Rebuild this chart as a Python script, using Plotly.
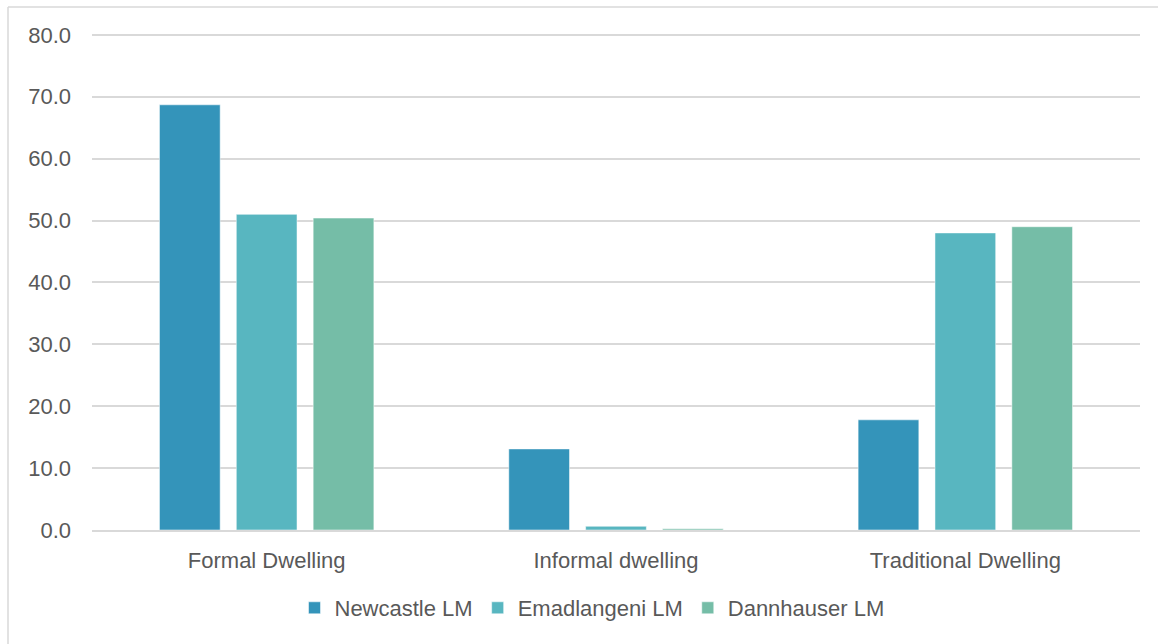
import plotly.graph_objects as go

# Dwelling type share (%) by local municipality
categories = ["Formal Dwelling", "Informal dwelling", "Traditional Dwelling"]
newcastle = [68.7, 13.1, 17.8]
emadlangeni = [51.0, 0.6, 48.0]
dannhauser = [50.4, 0.2, 49.0]

series = [
    ("Newcastle LM", newcastle, "#3494BA"),
    ("Emadlangeni LM", emadlangeni, "#58B6C0"),
    ("Dannhauser LM", dannhauser, "#75BDA7"),
]

W, H = 1158, 644
L, R, T, B = 92, 18, 33, 114
plot_w = W - L - R
plot_h = H - T - B

fig = go.Figure()
for name, vals, color in series:
    fig.add_trace(go.Bar(
        x=categories, y=vals, name=name,
        marker=dict(color=color, line=dict(color="rgba(255,255,255,0.5)", width=1)),
    ))

font_family = "Liberation Sans, Arial, sans-serif"
text_color = "#595959"
grid_color = "#D9D9D9"
font_size = 22


def px_x(px):
    return (px - L) / plot_w


def px_y(py):
    return (H - B - py) / plot_h


# thin frame along the top and left edges of the chart area
frame = dict(type="line", xref="paper", yref="paper",
             line=dict(color=grid_color, width=1.5))
fig.add_shape(x0=px_x(8), x1=px_x(W + 5), y0=px_y(7), y1=px_y(7), **frame)
fig.add_shape(x0=px_x(8), x1=px_x(8), y0=px_y(7), y1=px_y(H + 5), **frame)

fig.update_layout(
    width=W, height=H,
    margin=dict(l=L, r=R, t=T, b=B),
    paper_bgcolor="white", plot_bgcolor="white",
    barmode="group", bargap=0.34, bargroupgap=0.21,
    font=dict(family=font_family, size=font_size, color=text_color),
    xaxis=dict(
        showgrid=False, showline=True, linecolor=grid_color, linewidth=1.5,
        ticks="", ticklabelstandoff=10,
        tickfont=dict(size=font_size, color=text_color),
    ),
    yaxis=dict(
        range=[0, 80.3], tickvals=[0, 10, 20, 30, 40, 50, 60, 70, 80],
        tickformat=".1f",
        showgrid=True, gridcolor=grid_color, gridwidth=1.5,
        zeroline=False, showline=False, ticks="",
        ticklabelstandoff=20,
        tickfont=dict(size=font_size, color=text_color),
    ),
    legend=dict(
        orientation="h", x=px_x(592), xanchor="center",
        y=px_y(608), yanchor="middle",
        font=dict(size=font_size, color=text_color),
        itemwidth=30, traceorder="normal",
    ),
    showlegend=True,
)

fig.write_html("out.html")
